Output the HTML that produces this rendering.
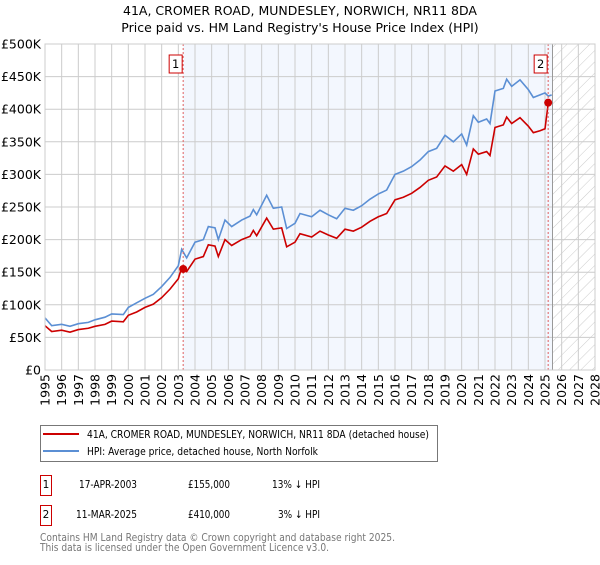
<!DOCTYPE html>
<html><head><meta charset="utf-8"><style>
body{margin:0;background:#fff;font-family:"Liberation Sans","DejaVu Sans",sans-serif;}
svg text{font-family:"DejaVu Sans","Liberation Sans",sans-serif;}
</style></head><body>
<svg id="chart" width="600" height="560" xmlns="http://www.w3.org/2000/svg">
<defs><pattern id="hatch" width="8" height="8" patternUnits="userSpaceOnUse" patternTransform="rotate(45)"><line x1="0" y1="0" x2="0" y2="8" stroke="#ccc" stroke-width="1"/></pattern></defs>
<text x="300" y="15" text-anchor="middle" font-size="12.5">41A, CROMER ROAD, MUNDESLEY, NORWICH, NR11 8DA</text>
<text x="300" y="32" text-anchor="middle" font-size="12.5">Price paid vs. HM Land Registry's House Price Index (HPI)</text>
<g id="plot"></g>
<g>
<rect x="40.5" y="425.5" width="397" height="36" fill="#fff" stroke="#777"/>
<line x1="43" y1="434" x2="79" y2="434" stroke="#cc0000" stroke-width="2"/>
<text x="87" y="438" font-size="10.5" textLength="342" lengthAdjust="spacingAndGlyphs">41A, CROMER ROAD, MUNDESLEY, NORWICH, NR11 8DA (detached house)</text>
<line x1="43" y1="451" x2="79" y2="451" stroke="#5b8fd4" stroke-width="2"/>
<text x="87" y="455" font-size="10.5" textLength="231" lengthAdjust="spacingAndGlyphs">HPI: Average price, detached house, North Norfolk</text>
</g>
<g font-size="10.5">
<rect x="40.5" y="475.5" width="11" height="20" fill="#fff" stroke="#cc0000"/><text x="46" y="488" text-anchor="middle">1</text>
<text x="79" y="488" textLength="58" lengthAdjust="spacingAndGlyphs">17-APR-2003</text><text x="188" y="488" textLength="42" lengthAdjust="spacingAndGlyphs">£155,000</text><text x="272" y="488" textLength="48" lengthAdjust="spacingAndGlyphs">13% ↓ HPI</text>
<rect x="40.5" y="505.5" width="11" height="20" fill="#fff" stroke="#cc0000"/><text x="46" y="518" text-anchor="middle">2</text>
<text x="76" y="518" textLength="61" lengthAdjust="spacingAndGlyphs">11-MAR-2025</text><text x="188" y="518" textLength="42" lengthAdjust="spacingAndGlyphs">£410,000</text><text x="278" y="518" textLength="42" lengthAdjust="spacingAndGlyphs">3% ↓ HPI</text>
</g>
<text x="40" y="541" font-size="11" fill="#777" textLength="355" lengthAdjust="spacingAndGlyphs">Contains HM Land Registry data © Crown copyright and database right 2025.</text>
<text x="40" y="551" font-size="11" fill="#777" textLength="289" lengthAdjust="spacingAndGlyphs">This data is licensed under the Open Government Licence v3.0.</text>
</svg>
<script>
const times=[1995.0,1995.4,1996.0,1996.5,1997.0,1997.6,1998.0,1998.6,1999.0,1999.7,2000.0,2000.5,2001.0,2001.5,2002.0,2002.5,2003.0,2003.2,2003.5,2004.0,2004.5,2004.8,2005.2,2005.4,2005.8,2006.2,2006.8,2007.3,2007.5,2007.7,2008.3,2008.7,2009.2,2009.5,2010.0,2010.3,2011.0,2011.5,2012.0,2012.5,2013.0,2013.5,2014.0,2014.5,2015.0,2015.5,2016.0,2016.5,2017.0,2017.5,2018.0,2018.5,2019.0,2019.5,2020.0,2020.3,2020.7,2021.0,2021.5,2021.7,2022.0,2022.5,2022.7,2023.0,2023.5,2024.0,2024.3,2024.7,2025.0,2025.2,2025.4];
const hpi=[80,68,70,67,71,73,77,81,86,85,96,103,110,116,128,142,160,185,172,196,200,220,218,200,230,220,230,236,246,238,268,248,250,217,225,240,235,245,238,232,248,245,252,262,270,276,300,305,312,322,335,340,360,350,362,345,390,380,385,378,428,432,446,435,445,430,418,422,425,420,422];
const paid=[68,59,61,58,62,64,67,70,75,74,84,89,96,101,111,124,140,157,151,170,174,192,190,174,200,191,200,205,214,206,233,216,218,189,196,209,204,213,207,202,216,213,219,228,235,240,261,265,271,280,291,296,313,305,315,300,339,331,335,329,372,376,388,378,387,374,364,367,370,410,412];
const saleLabels=["1","2"];
const saleTimes=[2003.29,2025.19];
const salePrices=[155,410];
const yTicks=[0,50,100,150,200,250,300,350,400,450,500];
const yTickLabels=["£0","£50K","£100K","£150K","£200K","£250K","£300K","£350K","£400K","£450K","£500K"];
const xYears=[1995,1996,1997,1998,1999,2000,2001,2002,2003,2004,2005,2006,2007,2008,2009,2010,2011,2012,2013,2014,2015,2016,2017,2018,2019,2020,2021,2022,2023,2024,2025,2026,2027,2028];

const L=45,R=595,T=44,B=370;
const X=t=>L+(t-1995)/(2028-1995)*(R-L);
const Y=v=>B-v/500*(B-T);
const ns="http://www.w3.org/2000/svg";
const g=document.getElementById('plot');
function mk(tag,a,parent){const e=document.createElementNS(ns,tag);for(const k in a)e.setAttribute(k,a[k]);(parent||g).appendChild(e);return e;}

const shade=mk('rect',{x:X(saleTimes[0]),y:T,width:X(2025.45)-X(saleTimes[0]),height:B-T,fill:'#eef3fd',opacity:0.7});


const hatch=mk('rect',{x:X(2025.45),y:T,width:R-X(2025.45),height:B-T,fill:'url(#hatch)'});



yTicks.forEach((v,i)=>{
 const ln=mk('line',{x1:L,x2:R,y1:Y(v),y2:Y(v),stroke:'#ccc'});
 
 
 const t=mk('text',{x:L-4,y:Y(v)+4.5,'text-anchor':'end','font-size':'12.5'});t.textContent=yTickLabels[i];
 
 
});
xYears.forEach(yr=>{
 const ln=mk('line',{x1:X(yr),x2:X(yr),y1:T,y2:B,stroke:'#ccc'});
 
 
 const t=mk('text',{x:0,y:0,'font-size':'12.5','text-anchor':'end',transform:`translate(${X(yr)+4.5},${B+4}) rotate(-90)`});t.textContent=yr;
 
 
});
const nowLine=mk('line',{x1:X(2025.45),x2:X(2025.45),y1:T,y2:B,stroke:'#999'});



const hp=mk('polyline',{points:times.map((t,i)=>X(t)+','+Y(hpi[i])).join(' '),fill:'none',stroke:'#5b8fd4','stroke-width':1.6});


const pp=mk('polyline',{points:times.map((t,i)=>X(t)+','+Y(paid[i])).join(' '),fill:'none',stroke:'#cc0000','stroke-width':1.6});



saleTimes.forEach((t,i)=>{
 const d=mk('line',{x1:X(t),x2:X(t),y1:T,y2:B,stroke:'#e06060','stroke-dasharray':'2,2'});
 
 
 const c=mk('circle',{cx:X(t),cy:Y(salePrices[i]),r:4,fill:'#cc0000'});
 
 
 const bx=mk('rect',{x:X(t)-14,y:55,width:13,height:18,fill:'#fff',stroke:'#cc0000'});
 
 
 const tx=mk('text',{x:X(t)-7.5,y:68,'text-anchor':'middle','font-size':'11.5'});tx.textContent=saleLabels[i];
 
 
});
const fr=mk('rect',{x:L,y:T,width:R-L,height:B-T,fill:'none',stroke:'#ccc'});


</script>
</body></html>
